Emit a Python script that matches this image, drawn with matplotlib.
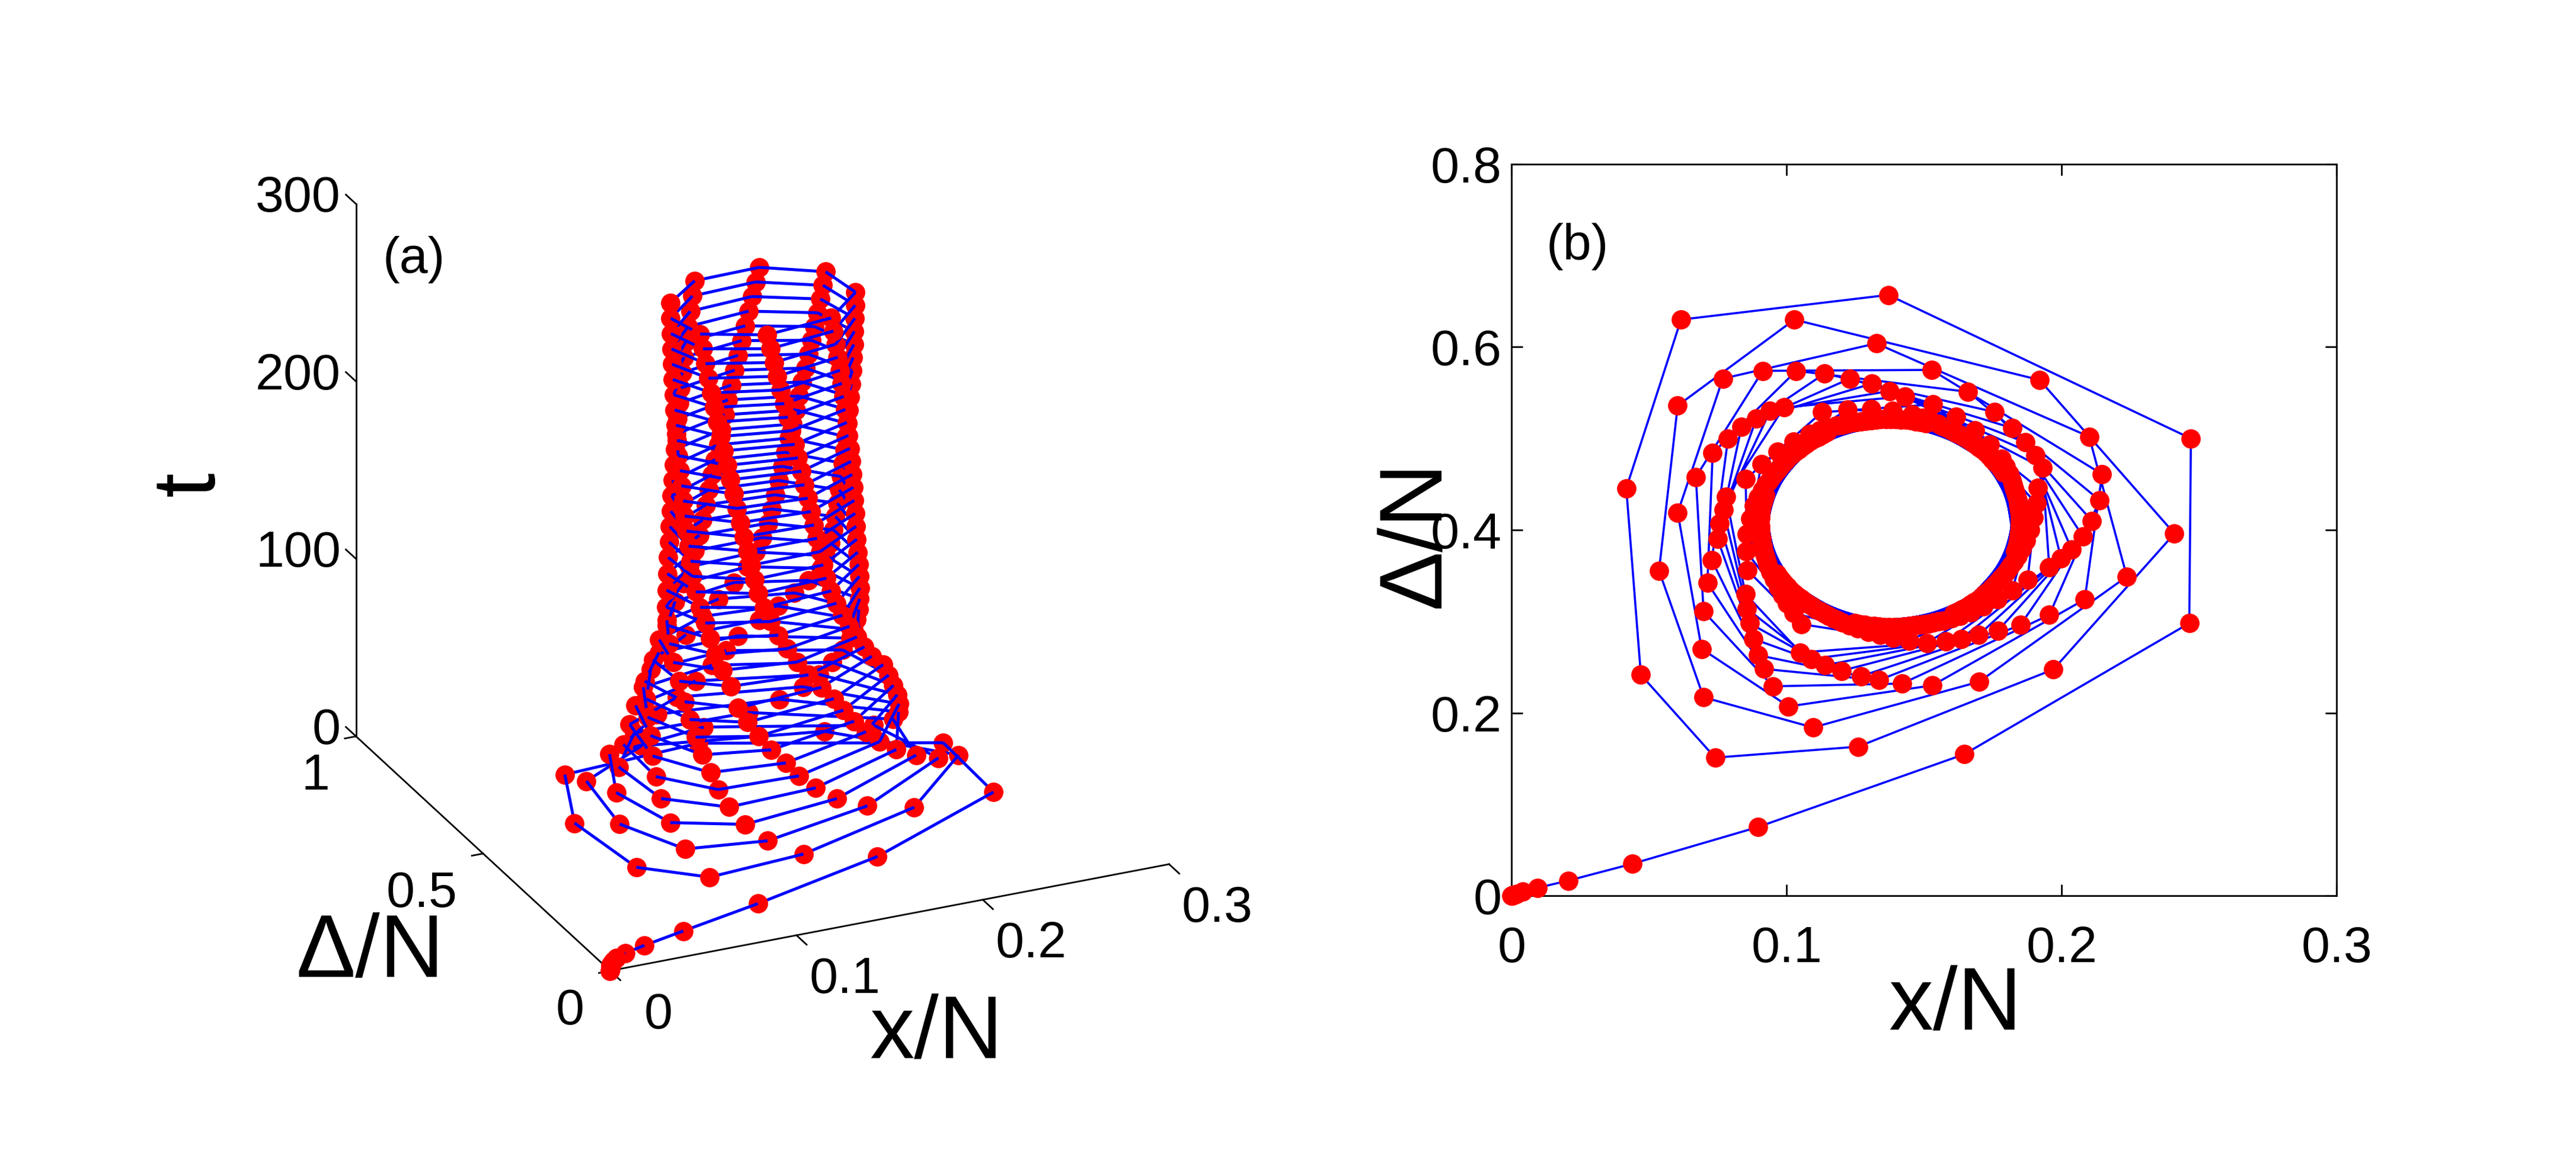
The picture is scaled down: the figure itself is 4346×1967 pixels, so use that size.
import numpy as np
import matplotlib
matplotlib.use("Agg")
import matplotlib.pyplot as plt
from mpl_toolkits.mplot3d.art3d import Line3DCollection

plt.rcParams['font.family'] = ['Liberation Sans', 'DejaVu Sans']

# ---------------- data ----------------
# trajectory sampled once per time unit: x/N and Delta/N
x_over_N = [
    # approach from the origin (t = 0..11)
    0.0000, 0.0001, 0.0002, 0.0004, 0.0009, 0.0019, 0.0040, 0.0094, 0.0206, 0.0440, 0.0895, 0.1646,
    # loop 1
    0.2464, 0.2470, 0.1370, 0.0616, 0.0417, 0.0470, 0.0740, 0.1260, 0.1970,
    # loops 2..10
    0.2410, 0.1920, 0.1028, 0.0604, 0.0536, 0.0698, 0.1096, 0.1700,
    0.2237, 0.2100, 0.1326, 0.0768, 0.0604, 0.0691, 0.1007, 0.1530,
    0.2084, 0.2147, 0.1527, 0.0913, 0.0670, 0.0698, 0.0950, 0.1420,
    0.1955, 0.2138, 0.1660, 0.1035, 0.0731, 0.0712, 0.0918, 0.1335,
    0.1850, 0.2110, 0.1756, 0.1138, 0.0787, 0.0728, 0.0897, 0.1270,
    0.1768, 0.2077, 0.1820, 0.1230, 0.0836, 0.0749, 0.0878, 0.1200,
    0.1698, 0.2037, 0.1867, 0.1310, 0.0890, 0.0756, 0.0865, 0.1140,
    0.1635, 0.1998, 0.1905, 0.1375, 0.0940, 0.0770, 0.0855, 0.1090,
    0.1580, 0.1955, 0.1930, 0.1430, 0.0990, 0.0780, 0.0850, 0.1050,
    # loops 11..36 (dense band around the limit cycle)
    0.1510, 0.1876, 0.1914, 0.1532, 0.1128, 0.0851, 0.0857, 0.1053,
    0.1445, 0.1820, 0.1908, 0.1616, 0.1222, 0.0908, 0.0852, 0.1025,
    0.1388, 0.1766, 0.1898, 0.1684, 0.1308, 0.0967, 0.0856, 0.1002,
    0.1339, 0.1716, 0.1885, 0.1739, 0.1386, 0.1026, 0.0867, 0.0984,
    0.1296, 0.1669, 0.1870, 0.1782, 0.1456, 0.1083, 0.0882, 0.0970,
    0.1259, 0.1632, 0.1855, 0.1797, 0.1493, 0.1120, 0.0897, 0.0955,
    0.1228, 0.1600, 0.1841, 0.1810, 0.1524, 0.1152, 0.0911, 0.0942,
    0.1201, 0.1571, 0.1827, 0.1819, 0.1551, 0.1181, 0.0925, 0.0933,
    0.1185, 0.1553, 0.1817, 0.1823, 0.1567, 0.1199, 0.0935, 0.0929,
    0.1169, 0.1535, 0.1808, 0.1827, 0.1583, 0.1217, 0.0944, 0.0925,
    0.1153, 0.1517, 0.1798, 0.1832, 0.1599, 0.1235, 0.0954, 0.0920,
    0.1138, 0.1499, 0.1788, 0.1836, 0.1614, 0.1253, 0.0964, 0.0916,
    0.1123, 0.1481, 0.1778, 0.1839, 0.1629, 0.1271, 0.0974, 0.0913,
    0.1108, 0.1463, 0.1767, 0.1842, 0.1644, 0.1289, 0.0985, 0.0910,
    0.1094, 0.1445, 0.1756, 0.1844, 0.1658, 0.1307, 0.0996, 0.0908,
    0.1079, 0.1427, 0.1745, 0.1847, 0.1673, 0.1325, 0.1007, 0.0905,
    0.1066, 0.1409, 0.1733, 0.1848, 0.1686, 0.1343, 0.1019, 0.0904,
    0.1053, 0.1391, 0.1720, 0.1848, 0.1699, 0.1361, 0.1032, 0.0904,
    0.1040, 0.1373, 0.1708, 0.1849, 0.1712, 0.1379, 0.1044, 0.0903,
    0.1027, 0.1355, 0.1695, 0.1848, 0.1725, 0.1397, 0.1057, 0.0904,
    0.1015, 0.1336, 0.1681, 0.1847, 0.1737, 0.1416, 0.1071, 0.0905,
    0.1004, 0.1318, 0.1667, 0.1845, 0.1748, 0.1434, 0.1085, 0.0907,
    0.0993, 0.1300, 0.1652, 0.1842, 0.1759, 0.1452, 0.1100, 0.0910,
    0.0982, 0.1283, 0.1637, 0.1839, 0.1770, 0.1469, 0.1115, 0.0913,
    0.0973, 0.1265, 0.1622, 0.1835, 0.1779, 0.1487, 0.1130, 0.0917,
    0.0964, 0.1247, 0.1607, 0.1831, 0.1788, 0.1505, 0.1145, 0.0921,
]

delta_over_N = [
    0.0000, 0.0001, 0.0002, 0.0005, 0.0010, 0.0020, 0.0046, 0.0086, 0.0165, 0.0350, 0.0750, 0.1547,
    0.2980, 0.5000, 0.6570, 0.6300, 0.4457, 0.2416, 0.1510, 0.1630, 0.2475,
    0.3960, 0.5640, 0.6300, 0.5360, 0.3555, 0.2170, 0.1840, 0.2340,
    0.3490, 0.5020, 0.6040, 0.5655, 0.4190, 0.2700, 0.2070, 0.2300,
    0.3240, 0.4610, 0.5750, 0.5740, 0.4580, 0.3110, 0.2290, 0.2320,
    0.3070, 0.4325, 0.5510, 0.5740, 0.4840, 0.3420, 0.2480, 0.2357,
    0.2960, 0.4100, 0.5290, 0.5710, 0.5000, 0.3670, 0.2630, 0.2400,
    0.2897, 0.3930, 0.5115, 0.5655, 0.5130, 0.3900, 0.2810, 0.2460,
    0.2850, 0.3785, 0.4960, 0.5600, 0.5220, 0.4070, 0.2980, 0.2520,
    0.2810, 0.3687, 0.4820, 0.5520, 0.5300, 0.4220, 0.3140, 0.2590,
    0.2780, 0.3590, 0.4680, 0.5460, 0.5340, 0.4360, 0.3300, 0.2660,
    0.2763, 0.3458, 0.4463, 0.5373, 0.5287, 0.4555, 0.3560, 0.2970,
    0.2788, 0.3336, 0.4289, 0.5237, 0.5318, 0.4722, 0.3768, 0.3090,
    0.2819, 0.3239, 0.4134, 0.5090, 0.5321, 0.4857, 0.3952, 0.3198,
    0.2852, 0.3162, 0.4000, 0.4936, 0.5301, 0.4966, 0.4120, 0.3290,
    0.2887, 0.3099, 0.3883, 0.4779, 0.5263, 0.5051, 0.4267, 0.3371,
    0.2923, 0.3061, 0.3794, 0.4691, 0.5227, 0.5089, 0.4356, 0.3459,
    0.2957, 0.3032, 0.3718, 0.4613, 0.5193, 0.5118, 0.4432, 0.3537,
    0.2990, 0.3011, 0.3654, 0.4545, 0.5160, 0.5139, 0.4496, 0.3605,
    0.3013, 0.3000, 0.3616, 0.4501, 0.5137, 0.5150, 0.4534, 0.3649,
    0.3037, 0.2989, 0.3578, 0.4457, 0.5113, 0.5161, 0.4572, 0.3693,
    0.3060, 0.2979, 0.3540, 0.4414, 0.5090, 0.5171, 0.4610, 0.3736,
    0.3084, 0.2970, 0.3503, 0.4371, 0.5066, 0.5180, 0.4647, 0.3779,
    0.3109, 0.2962, 0.3467, 0.4328, 0.5041, 0.5188, 0.4683, 0.3822,
    0.3134, 0.2954, 0.3430, 0.4285, 0.5016, 0.5196, 0.4720, 0.3865,
    0.3161, 0.2949, 0.3396, 0.4241, 0.4989, 0.5201, 0.4754, 0.3909,
    0.3188, 0.2943, 0.3362, 0.4198, 0.4962, 0.5207, 0.4788, 0.3952,
    0.3217, 0.2940, 0.3329, 0.4154, 0.4933, 0.5210, 0.4821, 0.3996,
    0.3247, 0.2939, 0.3297, 0.4111, 0.4903, 0.5211, 0.4853, 0.4039,
    0.3277, 0.2939, 0.3266, 0.4067, 0.4873, 0.5211, 0.4884, 0.4083,
    0.3309, 0.2940, 0.3236, 0.4023, 0.4841, 0.5210, 0.4914, 0.4127,
    0.3342, 0.2943, 0.3207, 0.3980, 0.4808, 0.5207, 0.4943, 0.4170,
    0.3376, 0.2947, 0.3180, 0.3937, 0.4774, 0.5203, 0.4970, 0.4213,
    0.3410, 0.2953, 0.3154, 0.3893, 0.4740, 0.5197, 0.4996, 0.4257,
    0.3446, 0.2961, 0.3129, 0.3851, 0.4704, 0.5189, 0.5021, 0.4299,
    0.3483, 0.2971, 0.3105, 0.3808, 0.4667, 0.5179, 0.5045, 0.4342,
    0.3521, 0.2982, 0.3083, 0.3766, 0.4629, 0.5168, 0.5067, 0.4384,
]

# uniform sampling in time, one sample per unit of t
t_values = np.arange(len(x_over_N), dtype=float)

x_ticks = [0, 0.1, 0.2, 0.3]
x_tick_labels = ['0', '0.1', '0.2', '0.3']
delta_ticks_3d = [0, 0.5, 1]
delta_tick_labels_3d = ['0', '0.5', '1']
t_ticks = [0, 100, 200, 300]
t_tick_labels = ['0', '100', '200', '300']
delta_ticks_2d = [0, 0.2, 0.4, 0.6, 0.8]
delta_tick_labels_2d = ['0', '0.2', '0.4', '0.6', '0.8']

# ---------------- styling ----------------
LINE_BLUE = (0, 0, 1)
DOT_RED = (1, 0, 0)
TICK_FS = 62
LABEL_FS = 108
MS = 23

x = np.array(x_over_N)
d = np.array(delta_over_N)
t = t_values

fig = plt.figure(figsize=(43.46, 19.67), dpi=100)

# ---------------- panel (a): 3D ----------------
ax3 = fig.add_axes([0.09326, 0.09395, 0.39485, 0.8724], projection='3d')
ax3.set_proj_type('ortho')
ax3.view_init(elev=24.8, azim=-114.45)
ax3.set_box_aspect((1, 1, 0.955))
ax3.set_axis_off()

pts = np.column_stack([x, d, t])
for i in range(len(pts) - 1):
    seg = Line3DCollection([pts[i:i + 2]], colors=[LINE_BLUE], linewidths=3.6)
    ax3.add_collection3d(seg)
for i in range(len(pts)):
    ax3.scatter([x[i]], [d[i]], [t[i]], s=MS ** 2, c=[DOT_RED],
                edgecolors=[DOT_RED], linewidths=0.5, depthshade=False)

ax3.set_xlim(0, 0.3)
ax3.set_ylim(0, 1)
ax3.set_zlim(0, 300)

# axis lines (MATLAB style: x at front, Delta at left, t at back corner)
axkw = dict(color='k', lw=2.0, zorder=0.1)
ax3.plot([0, 0.3], [0, 0], [0, 0], **axkw)
ax3.plot([0, 0], [0, 1], [0, 0], **axkw)
ax3.plot([0, 0], [1, 1], [0, 300], **axkw)
for xv, lab in zip(x_ticks, x_tick_labels):
    ax3.plot([xv, xv], [0, -0.04], [0, 0], **axkw)
    ax3.text(xv, -0.19, 0, lab, fontsize=TICK_FS, ha='center', va='center')
for dv, lab in zip(delta_ticks_3d, delta_tick_labels_3d):
    ax3.plot([0, -0.006], [dv, dv], [0, 0], **axkw)
    ax3.text(-0.014, dv, -20, lab, fontsize=TICK_FS, ha='right', va='center')
for tv, lab in zip(t_ticks, t_tick_labels):
    ax3.plot([0, 0], [1, 1.04], [tv, tv], **axkw)
    ax3.text(0, 1.06, tv - 5, lab, fontsize=TICK_FS, ha='right', va='center')

fig.text(0.1486, 0.7773, '(a)', fontsize=TICK_FS, ha='left', va='center')
fig.text(0.0740, 0.585, 't', fontsize=LABEL_FS, rotation=90, ha='center', va='center')
fig.text(0.1436, 0.1825, 'Δ/N', fontsize=LABEL_FS, ha='center', va='center')
fig.text(0.3636, 0.1124, 'x/N', fontsize=LABEL_FS, ha='center', va='center')

# ---------------- panel (b): 2D projection ----------------
axb = fig.add_axes([0.5868, 0.2318, 0.3203, 0.6274])
axb.plot(x, d, '-', color=LINE_BLUE, lw=2.6, zorder=2)
axb.plot(x, d, 'o', ms=MS, mfc=DOT_RED, mec=DOT_RED, mew=0.5, zorder=3, clip_on=False)
axb.set_xlim(0, 0.3)
axb.set_ylim(0, 0.8)
axb.set_xticks(x_ticks)
axb.set_xticklabels(x_tick_labels)
axb.set_yticks(delta_ticks_2d)
axb.set_yticklabels(delta_tick_labels_2d)
axb.tick_params(direction='in', top=True, right=True, length=14, width=2.0,
                labelsize=TICK_FS)
axb.tick_params(axis='x', pad=36)
axb.tick_params(axis='y', pad=12)
for sp in axb.spines.values():
    sp.set_linewidth(2.0)
axb.text(0.0125, 0.71, '(b)', fontsize=TICK_FS, ha='left', va='center')
fig.text(0.5497, 0.542, 'Δ/N', fontsize=LABEL_FS, rotation=90, ha='center', va='center')
fig.text(0.759, 0.137, 'x/N', fontsize=LABEL_FS, ha='center', va='center')

fig.savefig('out.png', dpi=100)
